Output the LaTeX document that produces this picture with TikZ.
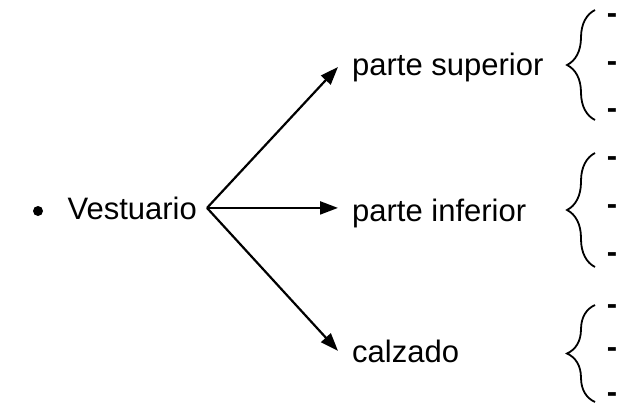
\documentclass[tikz,border=0pt]{standalone}
\usepackage{fontspec}
\setmainfont{Liberation Sans}
\usetikzlibrary{arrows.meta,decorations.pathreplacing}
\begin{document}
\begin{tikzpicture}[x=1pt,y=-1pt,
  lbl/.style={font=\fontsize{31}{36}\selectfont, inner ysep=0pt},
  tgt/.style={lbl, anchor=base west, inner xsep=14pt},
  arr/.style={line width=2.2pt, -{Triangle[length=18pt,width=13pt]}},
  brc/.style={line width=1.8pt, decorate, decoration={brace, amplitude=28pt}},
  dsh/.style={lbl, inner sep=0pt}]
\useasboundingbox (0,0) rectangle (621,412);
\node[circle, fill, inner sep=0pt, minimum size=10pt] (bul) at (38,211) {};
\node[lbl, anchor=base east, inner xsep=10pt] (vest) at (207,219) {Vestuario};
\node[tgt] (sup) at (338,75) {parte superior};
\node[tgt] (inf) at (338,221) {parte inferior};
\node[tgt] (cal) at (338,362) {calzado};
\draw[arr] (vest.east) -- (sup.west);
\draw[arr] (vest.east) -- (inf.west |- vest.east);
\draw[arr] (vest.east) -- (cal.west);
\draw[brc] (595,120) -- (595,10);
\draw[brc] (595,267) -- (595,153);
\draw[brc] (595,402) -- (595,305);
\foreach \n/\y in {a1/19,a2/67,a3/114,b1/162,b2/210,b3/258,c1/310,c2/353,c3/398}
  \node[dsh] (d\n) at (612,\y) {\textbf{-}};
\end{tikzpicture}
\end{document}
